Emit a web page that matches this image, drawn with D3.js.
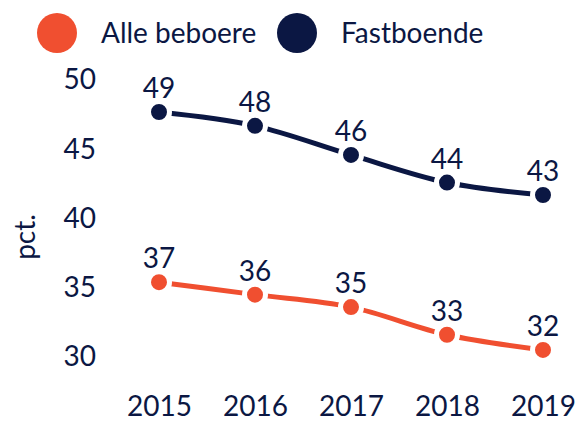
<!DOCTYPE html>
<html>
<head>
<meta charset="utf-8">
<script src="https://cdn.jsdelivr.net/npm/d3@7"></script>
<style>
  body { margin: 0; background: #fff; }
  text { font-family: "Lato", "Open Sans", sans-serif; fill: #0b1743; }
</style>
</head>
<body>
<div id="chart-area"></div>
<script>
const years = [2015, 2016, 2017, 2018, 2019];
const alleValues = [35.3, 34.4, 33.5, 31.5, 30.4];
const alleLabels = ["37", "36", "35", "33", "32"];
const fastValues = [47.6, 46.6, 44.5, 42.5, 41.6];
const fastLabels = ["49", "48", "46", "44", "43"];
const yTicks = [30, 35, 40, 45, 50];
const seriesNames = ["Alle beboere", "Fastboende"];

const width = 580;
const height = 421;
const orange = "#f04f30";
const navy = "#0b1743";
const fontSize = 28;

const svg = d3.select('#chart-area')
    .append('svg')
    .attr("width", width)
    .attr("height", height);

const x = d3.scalePoint()
    .domain(years)
    .range([159, 543]);

const y = d3.scaleLinear()
    .domain([30, 50])
    .range([355.5, 78.8]);

// y axis
const yAxis = d3.axisLeft(y)
    .tickValues(yTicks)
    .tickSize(0)
    .tickPadding(0);
const yg = svg.append('g')
    .attr('transform', 'translate(96,0)')
    .call(yAxis);
yg.select('.domain').remove();
yg.selectAll('text')
    .attr('font-size', fontSize)
    .attr('font-family', null)
    .attr('fill', navy)
    .attr('dy', '0.36em');

// x axis
const xAxis = d3.axisBottom(x).tickSize(0).tickPadding(0);
const xg = svg.append('g')
    .attr('transform', 'translate(0,416)')
    .call(xAxis);
xg.select('.domain').remove();
xg.selectAll('text')
    .attr('font-size', fontSize)
    .attr('font-family', null)
    .attr('fill', navy)
    .attr('dy', 0);

svg.append('text')
    .attr('transform', 'translate(35,237) rotate(-90)')
    .attr('text-anchor', 'middle')
    .attr('font-size', fontSize)
    .text("pct.");

const line = d3.line()
    .x((d, i) => x(years[i]))
    .y(d => y(d))
    .curve(d3.curveMonotoneX);

const series = [
    { values: alleValues, labels: alleLabels, color: orange },
    { values: fastValues, labels: fastLabels, color: navy }
];

series.forEach(s => {
    svg.append('path')
        .attr('d', line(s.values))
        .attr('fill', 'none')
        .attr('stroke', s.color)
        .attr('stroke-width', 5);

    svg.selectAll(null)
        .data(s.values)
        .enter()
        .append('circle')
        .attr('cx', (d, i) => x(years[i]))
        .attr('cy', d => y(d))
        .attr('r', 10.5)
        .attr('fill', s.color)
        .attr('stroke', '#fff')
        .attr('stroke-width', 5);

    svg.selectAll(null)
        .data(s.values)
        .enter()
        .append('text')
        .attr('x', (d, i) => x(years[i]))
        .attr('y', d => y(d) - 14)
        .attr('text-anchor', 'middle')
        .attr('font-size', fontSize)
        .text((d, i) => s.labels[i]);
});

// legend
const legend = svg.append('g');
const legendX = [57, 297];
seriesNames.forEach((name, i) => {
    legend.append('circle')
        .attr('cx', legendX[i])
        .attr('cy', 33)
        .attr('r', 20)
        .attr('fill', i === 0 ? orange : navy);
    legend.append('text')
        .attr('x', legendX[i] + 44)
        .attr('y', 43)
        .attr('font-size', fontSize)
        .text(name);
});
</script>
</body>
</html>
